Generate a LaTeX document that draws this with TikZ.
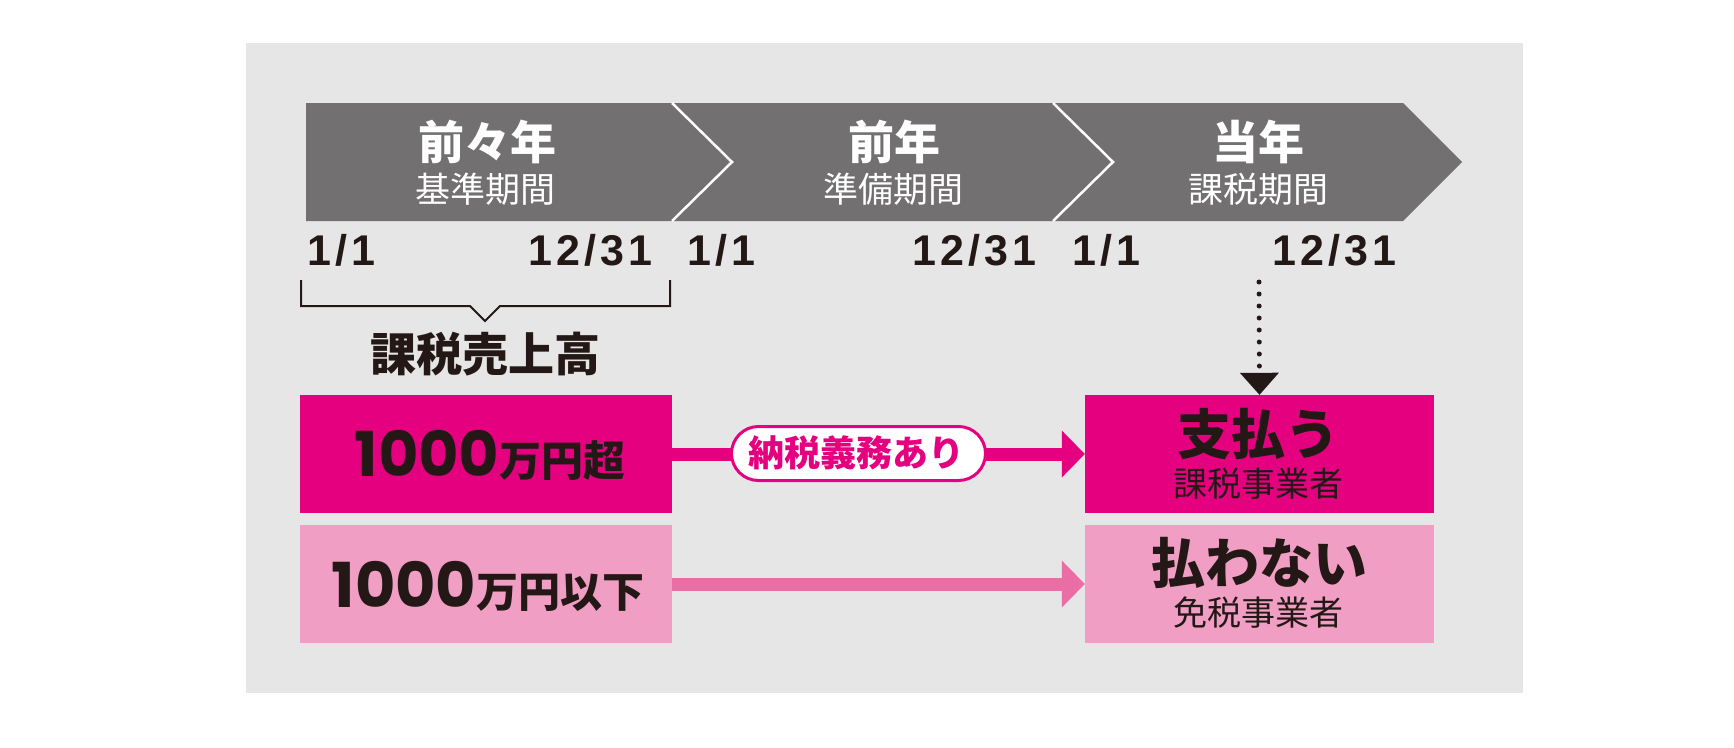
\documentclass[tikz,border=0pt]{standalone}
\usepackage{fontspec}
\setmainfont{Noto Sans CJK JP}[BoldFont={Noto Sans CJK JP Black}]
\newfontfamily\datefont[LetterSpace=10]{Liberation Sans}
\newfontfamily\numfont{Poppins}
\usetikzlibrary{arrows.meta}
\definecolor{bg}{HTML}{E6E6E7}
\definecolor{band}{HTML}{727071}
\definecolor{mag}{HTML}{E4007F}
\definecolor{lpink}{HTML}{F19EC4}
\definecolor{apink}{HTML}{EB6DA5}
\definecolor{ink}{HTML}{231815}
\tikzset{
  ttl/.style={inner sep=0pt, text=white, font=\fontsize{46}{50}\selectfont\bfseries},
  sub/.style={inner sep=0pt, text=white, font=\fontsize{35}{40}\selectfont},
  datelbl/.style={inner sep=0pt, text=ink, font=\datefont\fontsize{43}{46}\selectfont\bfseries},
  boxdark/.style={fill=mag, inner sep=0pt, minimum width=372pt, minimum height=118pt},
  boxlight/.style={fill=lpink, inner sep=0pt, minimum width=372pt, minimum height=118pt},
  resdark/.style={fill=mag, inner sep=0pt, minimum width=349pt, minimum height=118pt},
  reslight/.style={fill=lpink, inner sep=0pt, minimum width=349pt, minimum height=118pt},
  amount/.style={inner sep=0pt, text=ink, font=\fontsize{42}{46}\selectfont\bfseries},
  big/.style={inner sep=0pt, text=ink, font=\fontsize{54}{58}\selectfont\bfseries},
  small/.style={inner sep=0pt, text=ink, font=\fontsize{34}{38}\selectfont},
  pill/.style={draw=mag, line width=3pt, fill=white, rounded corners=27pt, minimum width=254pt, minimum height=54pt, inner sep=0pt},
  pilltext/.style={inner sep=0pt, text=mag, font=\fontsize{36}{40}\selectfont\bfseries},
  bigarrow/.style={line width=13pt, -{Triangle[length=23pt,width=47pt,line width=0pt]}},
}
\begin{document}
\begin{tikzpicture}[x=1pt,y=-1pt]
\useasboundingbox (0,0) rectangle (1734,747);
\fill[white] (0,0) rectangle (1734,747);
\fill[bg] (246,43) rectangle (1523,693);
% timeline band
\fill[band] (306,103) -- (1403,103) -- (1462,162) -- (1403,221) -- (306,221) -- cycle;
\draw[white, line width=2.5pt] (672,103) -- (732,162) -- (672,221);
\draw[white, line width=2.5pt] (1053,103) -- (1113,162) -- (1053,221);
% period labels
\node[ttl] (t1) at (487,142) {前々年};
\node[sub] (s1) at (485,189) {基準期間};
\node[ttl] (t2) at (894,142) {前年};
\node[sub] (s2) at (893,189) {準備期間};
\node[ttl] (t3) at (1258,142) {当年};
\node[sub] (s3) at (1258,189) {課税期間};
% dates
\node[datelbl, anchor=base west] (d1) at (307,265) {1/1};
\node[datelbl, anchor=base east] (d2) at (653,265) {12/31};
\node[datelbl, anchor=base west] (d3) at (687,265) {1/1};
\node[datelbl, anchor=base east] (d4) at (1037,265) {12/31};
\node[datelbl, anchor=base west] (d5) at (1072,265) {1/1};
\node[datelbl, anchor=base east] (d6) at (1397,265) {12/31};
% bracket
\draw[ink, line width=2pt] (301,280) -- (301,306) -- (470,306) -- (485,321) -- (500,306) -- (670,306) -- (670,280);
\node[inner sep=0pt, text=ink, font=\fontsize{46}{50}\selectfont\bfseries] (sales) at (485,354) {課税売上高};
% boxes
\node[boxdark] (hi) at (486,454) {};
\node[boxlight] (lo) at (486,584) {};
\node[resdark] (pay) at (1259.5,454) {};
\node[reslight] (nopay) at (1259.5,584) {};
\node[amount] (hiT) at (490,455) {{\numfont\bfseries\fontsize{62}{66}\selectfont 1000}万円超};
\node[amount] (loT) at (488,586) {{\numfont\bfseries\fontsize{62}{66}\selectfont 1000}万円以下};
\node[big] (payT) at (1258,434) {支払う};
\node[small] (payS) at (1258,484) {課税事業者};
\node[big] (nopayT) at (1259,563) {払わない};
\node[small] (nopayS) at (1258,613) {免税事業者};
% arrows
\draw[mag, bigarrow] (hi.east) -- (pay.west);
\draw[apink, bigarrow] (lo.east) -- (nopay.west);
\node[pill] (duty) at (858.5,453.5) {};
\node[pilltext] (dutyT) at (856,453) {納税義務あり};
% dotted arrow
\coordinate (dotstart) at (1259,282);
\draw[ink, line width=5pt, line cap=round, dash pattern=on 0pt off 12pt, -{Triangle[length=22pt,width=39pt,line width=0pt]}] (dotstart) -- (pay.north);
\end{tikzpicture}
\end{document}
